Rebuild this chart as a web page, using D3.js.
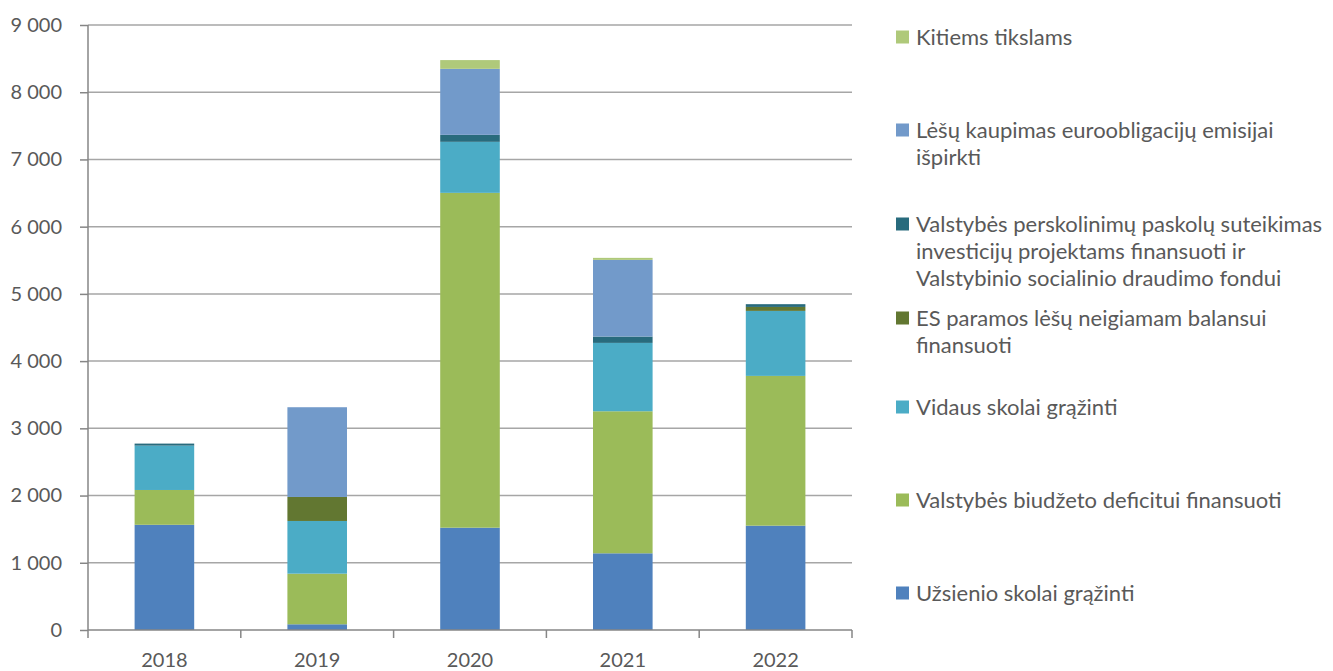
<!DOCTYPE html>
<html><head><meta charset="utf-8">
<script src="https://cdn.jsdelivr.net/npm/d3@7"></script>
<style>body{margin:0;background:#fff}</style>
</head><body>
<svg id="c" width="1333" height="671"></svg>
<script>
const years = ["2018","2019","2020","2021","2022"];
const seriesNames = [
  "Užsienio skolai grąžinti",
  "Valstybės biudžeto deficitui finansuoti",
  "Vidaus skolai grąžinti",
  "ES paramos lėšų neigiamam balansui finansuoti",
  "Valstybės perskolinimų paskolų suteikimas investicijų projektams finansuoti ir Valstybinio socialinio draudimo fondui",
  "Lėšų kaupimas euroobligacijų emisijai išpirkti",
  "Kitiems tikslams"
];
const uzsienio   = [1565, 85, 1522, 1141, 1552];
const deficitas  = [518, 753, 4981, 2113, 2228];
const vidaus     = [660, 784, 759, 1017, 967];
const esParama   = [0, 357, 0, 0, 59];
const perskolin  = [30, 0, 104, 94, 41];
const kaupimas   = [0, 1335, 982, 1141, 0];
const kitiems    = [0, 0, 130, 30, 0];
const colors = ["#4F81BD","#9BBB59","#4BACC6","#627731","#286B7D","#729ACA","#AFC97A"];
const yTicks = [0,1000,2000,3000,4000,5000,6000,7000,8000,9000];
const legendLines = [
  ["Kitiems tikslams"],
  ["Lėšų kaupimas euroobligacijų emisijai","išpirkti"],
  ["Valstybės perskolinimų paskolų suteikimas","investicijų projektams finansuoti ir","Valstybinio socialinio draudimo fondui"],
  ["ES paramos lėšų neigiamam balansui","finansuoti"],
  ["Vidaus skolai grąžinti"],
  ["Valstybės biudžeto deficitui finansuoti"],
  ["Užsienio skolai grąžinti"]
];
const legendIdx = [6,5,4,3,2,1,0];
const legendY = [37,130,224,318,407,500,593];

const seriesVals = [uzsienio, deficitas, vidaus, esParama, perskolin, kaupimas, kitiems];
const table = years.map((y,i)=>{const o={year:y}; seriesVals.forEach((s,k)=>o["s"+k]=s[i]); return o;});
const keys = seriesVals.map((_,k)=>"s"+k);
const stack = d3.stack().keys(keys)(table);

const svg = d3.select("#c");
const font = "Lato, 'Open Sans', sans-serif";
const x = d3.scaleBand().domain(years).range([88,852]).paddingInner(0.61).paddingOuter(0.305);
const xb = d3.scaleBand().domain(years).range([88,852]);
const y = d3.scaleLinear().domain([0,9000]).range([630,25]);

// gridlines
svg.append("g").selectAll("line").data(yTicks.filter(d=>d>0)).join("line")
  .attr("x1",88).attr("x2",852).attr("y1",d=>y(d)).attr("y2",d=>y(d))
  .attr("stroke","#A6A6A6").attr("stroke-width",1.5);

// bars
svg.append("g").selectAll("g").data(stack).join("g")
  .attr("fill",(d,i)=>colors[i])
  .selectAll("rect").data(d=>d).join("rect")
  .attr("x",d=>x(d.data.year)).attr("width",x.bandwidth())
  .attr("y",d=>y(d[1])).attr("height",d=>Math.max(0,y(d[0])-y(d[1])));

// y axis
const ya = svg.append("g").attr("transform","translate(88,0)")
  .call(d3.axisLeft(y).tickValues(yTicks).tickSize(8).tickPadding(18)
    .tickFormat(d=>d3.format(",")(d).replace(/,/g," ")));
ya.select(".domain").attr("stroke","#868686").attr("stroke-width",1.5).attr("d","M0,25V630");
ya.selectAll(".tick line").attr("stroke","#868686").attr("stroke-width",1.5);
ya.selectAll("text").attr("font-family",font).attr("font-size",20).attr("fill","#595959");

// x axis
const xa = svg.append("g").attr("transform","translate(0,630)");
xa.append("line").attr("x1",88).attr("x2",852).attr("stroke","#868686").attr("stroke-width",1.5);
const bounds = years.map(d=>xb(d)).concat([852]);
xa.selectAll(".tk").data(bounds).join("line").attr("class","tk")
  .attr("x1",d=>d).attr("x2",d=>d).attr("y1",0).attr("y2",8)
  .attr("stroke","#868686").attr("stroke-width",1.5);
xa.selectAll("text").data(years).join("text")
  .attr("x",d=>xb(d)+xb.bandwidth()/2).attr("y",30).attr("dy","0.35em")
  .attr("text-anchor","middle").attr("font-family",font).attr("font-size",20).attr("fill","#595959")
  .text(d=>d);

// legend
const lg = svg.append("g");
legendIdx.forEach((si,j)=>{
  const cy = legendY[j];
  lg.append("rect").attr("x",896).attr("y",cy-6.5).attr("width",13).attr("height",13).attr("fill",colors[si]);
  legendLines[j].forEach((ln,k)=>{
    lg.append("text").attr("x",916).attr("y",cy+k*27).attr("dy","0.35em")
      .attr("font-family",font).attr("font-size",22).attr("fill","#595959").text(ln);
  });
});
</script>
</body></html>
